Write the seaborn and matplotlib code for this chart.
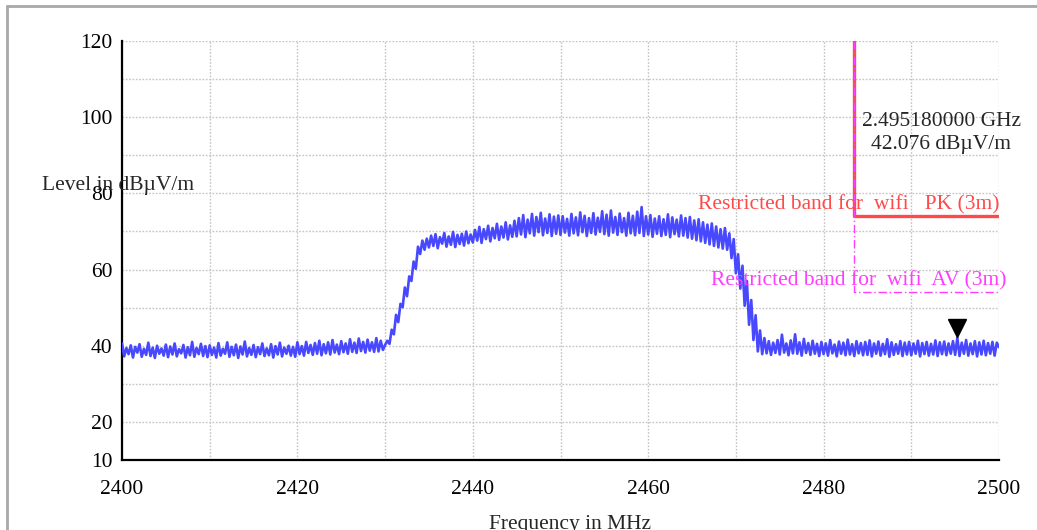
import numpy as np
import pandas as pd
import seaborn as sns
import matplotlib.pyplot as plt
import matplotlib.transforms as mtransforms
from matplotlib.lines import Line2D

# =============================
#  Data
# =============================
f_start, f_stop = 2400.0, 2500.0

# measured trace, one value every 0.25 MHz (one row = 5 MHz)
level = [
    40.6, 37.2, 39.4, 37.8, 40.1, 36.9, 39.7, 38.2, 40.4, 37.1, 39.2, 37.6, 40.8, 37.3, 39.5, 36.8, 40.0, 37.9, 39.3, 37.4,
    40.3, 37.0, 39.8, 37.7, 40.6, 37.2, 39.1, 38.0, 40.2, 36.9, 39.6, 37.5, 41.0, 37.1, 39.4, 37.8, 40.5, 37.3, 39.9, 37.0,
    40.1, 37.6, 39.5, 36.9, 40.7, 37.4, 39.2, 37.9, 40.9, 37.1, 39.7, 37.5, 40.3, 36.8, 39.8, 37.7, 41.1, 37.2, 39.4, 37.6,
    40.2, 37.0, 39.6, 37.8, 40.6, 37.3, 39.3, 37.5, 40.4, 36.9, 39.9, 37.7, 40.8, 37.2, 39.5, 37.9, 40.0, 37.4, 39.7, 37.1,
    40.9, 37.8, 39.9, 37.4, 41.0, 38.1, 40.2, 37.6, 40.7, 37.9, 41.3, 37.5, 40.4, 38.0, 40.9, 37.7, 41.5, 38.2, 40.3, 37.8,
    41.2, 38.3, 40.6, 37.9, 41.7, 38.4, 40.8, 38.1, 41.9, 38.6, 41.0, 38.2, 41.6, 38.7, 40.9, 38.4, 42.0, 38.5, 41.3, 38.9,
    40.2, 41.3, 40.5, 44.2, 43.0, 48.1, 46.2, 51.0, 50.1, 55.3, 53.0, 58.2, 57.0, 62.1, 60.2, 66.0, 64.1, 67.6, 65.2, 68.1,
    65.8, 68.9, 66.2, 69.3, 65.6, 68.5, 66.8, 69.6, 66.0, 68.7, 66.5, 69.9, 65.9, 69.1, 66.7, 69.4, 66.3, 70.0, 66.9, 69.2,
    67.1, 70.4, 67.6, 71.2, 67.0, 70.6, 68.0, 71.5, 67.4, 70.9, 68.2, 72.0, 67.8, 71.3, 68.4, 72.4, 67.9, 71.6, 68.6, 72.8,
    68.7, 73.5, 69.2, 74.3, 68.5, 73.1, 69.5, 74.6, 68.9, 73.8, 69.8, 74.9, 69.0, 73.4, 69.6, 74.5, 68.8, 73.9, 69.4, 74.2,
    69.1, 74.0, 69.7, 73.3, 68.9, 74.6, 69.5, 73.7, 69.0, 75.0, 69.8, 74.1, 68.8, 73.5, 69.6, 74.8, 69.2, 73.6, 69.9, 75.3,
    69.3, 74.4, 68.9, 75.5, 69.7, 73.8, 69.1, 74.7, 69.8, 73.5, 68.9, 74.9, 69.5, 74.1, 69.0, 75.2, 69.6, 76.4, 68.8, 74.0,
    69.2, 74.3, 68.6, 73.4, 69.4, 74.0, 68.8, 73.2, 69.1, 74.5, 68.5, 73.7, 69.3, 73.1, 68.7, 74.2, 68.9, 73.5, 68.4, 73.8,
    68.1, 72.9, 67.7, 73.2, 67.4, 72.4, 67.0, 71.8, 66.6, 72.1, 66.2, 71.3, 65.8, 70.6, 65.5, 70.9, 65.2, 69.5, 63.0, 68.0,
    59.0, 64.0, 55.0, 61.0, 50.5, 57.0, 45.5, 52.0, 41.5, 48.0, 38.5, 44.0, 37.8, 42.0, 38.0, 41.2, 37.6, 40.8, 38.1, 41.5,
    37.7, 42.9, 38.2, 40.6, 37.5, 41.4, 38.0, 43.0, 37.9, 40.9, 37.4, 41.8, 38.1, 40.7, 37.6, 41.3, 37.9, 40.5, 37.3, 41.0,
    37.8, 40.6, 37.4, 41.5, 38.0, 40.3, 37.2, 41.1, 37.9, 40.8, 37.5, 41.6, 37.7, 40.4, 37.3, 41.2, 38.0, 40.7, 37.5, 41.0,
    37.6, 41.4, 37.2, 40.6, 37.9, 41.1, 37.4, 40.5, 37.8, 41.7, 37.1, 40.9, 37.6, 40.4, 37.9, 41.2, 37.3, 40.8, 37.7, 41.0,
    37.5, 40.6, 37.9, 41.3, 37.2, 40.7, 37.8, 41.0, 37.4, 40.5, 37.7, 41.4, 37.3, 40.9, 37.8, 41.1, 37.5, 40.6, 37.9, 41.2,
    37.6, 42.1, 37.3, 40.8, 37.9, 41.5, 37.4, 40.6, 37.8, 41.2, 37.2, 40.9, 37.7, 41.3, 37.5, 40.7, 37.9, 41.0, 37.4, 40.8,
    39.6,
]
freq = np.linspace(f_start, f_stop, len(level))

# limit lines
pk_freq = [2483.5, 2483.5, 2500.0]
pk_level = [120.0, 74.0, 74.0]
av_freq = [2483.5, 2483.5, 2500.0]
av_level = [120.0, 54.0, 54.0]
pk_label = "Restricted band for  wifi   PK (3m)"
av_label = "Restricted band for  wifi  AV (3m)"

# marker
marker_freq = 2495.18
marker_level = 42.076

x_major = [2400, 2420, 2440, 2460, 2480, 2500]
x_minor = [2410, 2430, 2450, 2470, 2490]
y_major = [10, 20, 40, 60, 80, 100, 120]
y_minor = [30, 50, 70, 90, 110]

df = pd.DataFrame({"freq": freq, "level": level})

# =============================
#  Figure
# =============================
sns.set_style("white")
plt.rcParams["font.family"] = ["Liberation Serif", "DejaVu Serif"]
fs = 15.5

fig = plt.figure(figsize=(10.37, 5.30), dpi=100)
ax = fig.add_axes([122 / 1037, 1 - 460 / 530, 877 / 1037, 419 / 530])

sns.lineplot(data=df, x="freq", y="level", ax=ax, color="#4848ff",
             linewidth=1.9, sort=False, estimator=None, zorder=3)

ax.plot(pk_freq, pk_level, color="#ff4a4a", linewidth=2.4, zorder=4)
ax.plot(av_freq, av_level, color="#ff3cff", linewidth=1.0,
        linestyle=(0, (6, 2, 1, 2)), zorder=5)

ax.text(2500, 74.4, pk_label, color="#ff4a4a", fontsize=fs,
        ha="right", va="bottom")
ax.text(2500.8, 54.4, av_label, color="#ff3cff", fontsize=fs,
        ha="right", va="bottom")

tri = mtransforms.offset_copy(ax.transData, fig=fig, y=9.5, units="dots")
ax.plot([marker_freq], [marker_level], marker="v", markersize=13.5,
        color="black", linestyle="none", transform=tri, zorder=6, clip_on=False)
ax.text(2493.4, 95.8, f"{marker_freq / 1000:.9f} GHz\n{marker_level:.3f} dBµV/m",
        fontsize=fs, ha="center", va="center", linespacing=1.3)

ax.set_xlim(f_start, f_stop)
ax.set_ylim(10, 120)
ax.set_xticks(x_major)
ax.set_xticks(x_minor, minor=True)
ax.set_yticks(y_major)
ax.set_yticks(y_minor, minor=True)
ax.tick_params(axis="both", which="both", direction="inout", length=9.5,
               width=1.5, color="black", labelsize=fs, labelcolor="black")
ax.tick_params(axis="x", which="major", pad=10)
ax.tick_params(axis="y", which="major", pad=2)
ax.grid(True, which="both", color="#c4c4c4", linestyle=(0, (1.2, 1.2)), linewidth=1.0)
ax.set_axisbelow(True)

for side in ["top", "right"]:
    ax.spines[side].set_visible(False)
for side in ["left", "bottom"]:
    ax.spines[side].set_color("black")
    ax.spines[side].set_linewidth(1.6)

ax.set_xlabel("")
ax.set_ylabel("")
fig.text(42 / 1037, 1 - 186 / 530, "Level in dBµV/m", fontsize=fs,
         ha="left", va="center")
fig.text(570 / 1037, 1 - 525 / 530, "Frequency in MHz", fontsize=fs,
         ha="center", va="center")

# grey frame on top and left of the picture
fig.add_artist(Line2D([7 / 1037, 1], [1 - 6 / 530, 1 - 6 / 530],
                      transform=fig.transFigure, color="#a8a8a8", linewidth=2))
fig.add_artist(Line2D([7 / 1037, 7 / 1037], [0, 1 - 6 / 530],
                      transform=fig.transFigure, color="#a8a8a8", linewidth=2))

plt.savefig("out.png", dpi=100)
plt.close()
